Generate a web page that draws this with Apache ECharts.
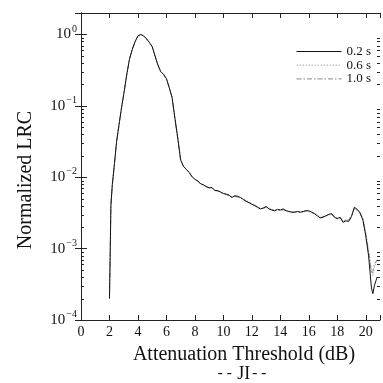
<!DOCTYPE html>
<html>
<head>
<meta charset="utf-8">
<script src="https://cdn.jsdelivr.net/npm/echarts@6/dist/echarts.min.js"></script>
<style>html,body{margin:0;padding:0;background:#fff}#c{width:383px;height:383px}</style>
</head>
<body>
<div id="c"></div>
<script>
const seriesNames = ['0.2 s', '0.6 s', '1.0 s'];
const xs = [2.0, 2.05, 2.1, 2.2, 2.35, 2.5, 2.7, 2.85,
  3.0, 3.2, 3.4, 3.6, 3.8, 4.0, 4.2, 4.4, 4.6, 4.8, 5.0, 5.2, 5.4, 5.6, 5.8, 6.0, 6.2, 6.4, 6.6, 6.8,
  7.0, 7.2, 7.4, 7.6, 7.8, 8.0, 8.2, 8.4, 8.6, 8.8, 9.0, 9.2, 9.4, 9.6, 9.8, 10.0, 10.2, 10.4, 10.6, 10.8,
  11.0, 11.2, 11.4, 11.6, 11.8, 12.0, 12.2, 12.4, 12.6, 12.8, 13.0, 13.2, 13.4, 13.6, 13.8, 14.0, 14.2, 14.4, 14.6, 14.8,
  15.0, 15.2, 15.4, 15.6, 15.8, 16.0, 16.2, 16.4, 16.6, 16.8, 17.0, 17.2, 17.4, 17.6, 17.8, 18.0, 18.2, 18.4, 18.6, 18.8,
  19.0, 19.2, 19.4, 19.6, 19.8, 20.0, 20.2, 20.4, 20.5, 20.6, 20.8];
const lrc02 = [0.0002, 0.00085, 0.004, 0.0079, 0.0155, 0.0316, 0.060, 0.095,
  0.145, 0.263, 0.447, 0.617, 0.794, 0.955, 1.0, 0.955, 0.871, 0.776, 0.676, 0.501, 0.372, 0.302, 0.275, 0.240, 0.18, 0.13, 0.066, 0.035,
  0.0174, 0.0141, 0.0129, 0.0117, 0.0102, 0.0093, 0.0089, 0.0081, 0.0078, 0.0074,
  0.0071, 0.0072, 0.0065, 0.0065, 0.0062, 0.0059, 0.0058, 0.0056, 0.0052, 0.0055,
  0.0054, 0.0052, 0.0049, 0.0046, 0.0044, 0.0042, 0.0040, 0.0038, 0.0036, 0.0037,
  0.0039, 0.0036, 0.00347, 0.00339, 0.00355, 0.00347, 0.0036, 0.00339, 0.00331, 0.00324,
  0.00324, 0.00331, 0.00324, 0.00331, 0.00339, 0.00339, 0.00324, 0.00309, 0.00288, 0.00269,
  0.00275, 0.00288, 0.00302, 0.00309, 0.00275, 0.00263, 0.00275, 0.00234, 0.00245, 0.0024,
  0.00282, 0.0038, 0.00355, 0.00316, 0.00251, 0.00151, 0.00079, 0.00028,
  0.000234, 0.0003, 0.0004];
const lrc06 = [0.0002, 0.00087, 0.0041, 0.008, 0.0157, 0.0318, 0.061, 0.096,
  0.146, 0.265, 0.445, 0.62, 0.79, 0.95, 1.0, 0.95, 0.875, 0.78, 0.67, 0.505, 0.37, 0.305, 0.272, 0.238, 0.182, 0.128, 0.067, 0.036,
  0.0176, 0.0143, 0.0127, 0.0115, 0.0104, 0.0095, 0.0087, 0.0083, 0.0077, 0.0075,
  0.0070, 0.0071, 0.0066, 0.0064, 0.0063, 0.0060, 0.0057, 0.0055, 0.0053, 0.0054,
  0.0055, 0.0051, 0.0050, 0.0047, 0.0045, 0.0041, 0.0041, 0.0037, 0.0037, 0.0036,
  0.0038, 0.0037, 0.00355, 0.00345, 0.0035, 0.0035, 0.00355, 0.00345, 0.00335, 0.0033,
  0.0032, 0.00335, 0.0033, 0.00325, 0.00345, 0.00335, 0.0033, 0.00305, 0.00295, 0.00275,
  0.0028, 0.00285, 0.00295, 0.00305, 0.0028, 0.0027, 0.0027, 0.0025, 0.0025, 0.00255,
  0.0029, 0.0036, 0.0035, 0.0033, 0.0027, 0.0017, 0.00095, 0.0005,
  0.00042, 0.00055, 0.00068];
const lrc10 = [0.0002, 0.00086, 0.0040, 0.0078, 0.0154, 0.0314, 0.059, 0.094,
  0.144, 0.262, 0.448, 0.615, 0.795, 0.96, 1.0, 0.96, 0.868, 0.772, 0.68, 0.498, 0.374, 0.3, 0.277, 0.242, 0.178, 0.131, 0.065, 0.034,
  0.0172, 0.0142, 0.0130, 0.0116, 0.0101, 0.0094, 0.0088, 0.0080, 0.0079, 0.0073,
  0.0072, 0.0070, 0.0066, 0.0064, 0.0061, 0.0060, 0.0057, 0.0056, 0.0053, 0.0054,
  0.0053, 0.0052, 0.0048, 0.0046, 0.0045, 0.0042, 0.0040, 0.0039, 0.0036, 0.0037,
  0.0038, 0.0036, 0.0035, 0.0034, 0.0035, 0.0034, 0.0035, 0.0034, 0.0033, 0.0032,
  0.00325, 0.0033, 0.0032, 0.0033, 0.0034, 0.0033, 0.0032, 0.0031, 0.0029, 0.0027,
  0.0028, 0.0029, 0.0030, 0.0030, 0.0028, 0.0026, 0.0027, 0.0024, 0.0025, 0.0025,
  0.0029, 0.0037, 0.0034, 0.0031, 0.0026, 0.0016, 0.0009, 0.00045,
  0.00048, 0.0006, 0.0007];
const minorTicks = [2e-4,3e-4,4e-4,5e-4,6e-4,7e-4,8e-4,9e-4,
  2e-3,3e-3,4e-3,5e-3,6e-3,7e-3,8e-3,9e-3,
  2e-2,3e-2,4e-2,5e-2,6e-2,7e-2,8e-2,9e-2,
  0.2,0.3,0.4,0.5,0.6,0.7,0.8,0.9];
const xTitle = 'Attenuation Threshold (dB)';
const yTitle = 'Normalized LRC';
const subDash = '--';
const subText = 'JI';

const FONT = 'Liberation Serif';
const AX = '#222';
const chart = echarts.init(document.getElementById('c'), null, {renderer: 'canvas'});

function pair(v) { return xs.map((x, i) => [x, v[i]]); }

function yLabel(v) {
  const l = Math.log10(v);
  const e = Math.round(l);
  if (Math.abs(l - e) > 0.01) return '';
  return '{b|10}{s|' + (e < 0 ? '\u2212' + (-e) : e) + '}';
}

const baseX = {
  type: 'value', min: 0, max: 21, interval: 2,
  axisLine: {show: true, lineStyle: {color: AX, width: 1}},
  axisTick: {show: true, inside: true, length: 5, lineStyle: {color: AX}},
  splitLine: {show: false}
};
const baseY = {
  type: 'log', logBase: 10, min: 1e-4, max: 2,
  axisLine: {show: true, lineStyle: {color: AX, width: 1}},
  axisTick: {show: true, inside: true, length: 6, lineStyle: {color: AX}},
  splitLine: {show: false}
};

chart.setOption({
  animation: false,
  grid: {left: 81, right: -2, top: 13, bottom: 63, containLabel: false},
  xAxis: [
    Object.assign({}, baseX, {position: 'bottom',
      axisLabel: {show: true, fontFamily: FONT, fontSize: 14, color: '#111', margin: 5,
        formatter: v => (v > 20.5 ? '' : String(v))}}),
    Object.assign({}, baseX, {position: 'top', axisLabel: {show: false}})
  ],
  yAxis: [
    Object.assign({}, baseY, {position: 'left',
      axisLabel: {show: true, margin: 4, formatter: yLabel, color: '#111',
        rich: {b: {fontFamily: FONT, fontSize: 15, color: '#111'},
               s: {fontFamily: FONT, fontSize: 10, color: '#111', padding: [0, 0, 11, 1]}}}}),
    Object.assign({}, baseY, {position: 'right', axisLabel: {show: false}})
  ],
  legend: {
    data: seriesNames, orient: 'vertical', left: 296, top: 45, padding: 0,
    itemWidth: 45, itemHeight: 10, itemGap: 0.7,
    itemStyle: {opacity: 0},
    lineStyle: {width: 1},
    textStyle: {fontFamily: FONT, fontSize: 13, color: '#111', lineHeight: 10}
  },
  series: [
    {name: seriesNames[0], type: 'line', data: pair(lrc02), symbol: 'none', z: 5,
      lineStyle: {color: '#111', width: 1}, itemStyle: {color: '#111'}},
    {name: seriesNames[1], type: 'line', data: pair(lrc06), symbol: 'none', z: 3,
      lineStyle: {color: '#aaa', width: 1, type: [1.5, 1.5]}, itemStyle: {color: '#aaa'}},
    {name: seriesNames[2], type: 'line', data: pair(lrc10), symbol: 'none', z: 4,
      lineStyle: {color: '#888', width: 1, type: [5, 2, 1.5, 2]}, itemStyle: {color: '#888'}},
    {type: 'custom', silent: true, z: 6, clip: false,
      data: minorTicks.map(v => [0, v]),
      renderItem: function (params, api) {
        const cs = params.coordSys;
        const p = api.coord([0, api.value(1)]);
        const y = Math.round(p[1]) + 0.5;
        return {type: 'group', children: [
          {type: 'line', shape: {x1: cs.x, y1: y, x2: cs.x + 3, y2: y}, style: {stroke: AX, lineWidth: 1}},
          {type: 'line', shape: {x1: cs.x + cs.width - 3, y1: y, x2: cs.x + cs.width, y2: y}, style: {stroke: AX, lineWidth: 1}}
        ]};
      }}
  ],
  graphic: [
    {type: 'text', x: 244, y: 355, style: {text: xTitle, font: '20px "Liberation Serif"', fill: '#111', textAlign: 'center', textVerticalAlign: 'middle'}},
    {type: 'text', x: 242, y: 374, style: {
      text: '{m|' + subDash + '} {s|' + subText + '}{m|' + subDash + '}',
      textAlign: 'center', textVerticalAlign: 'middle', fill: '#111',
      rich: {m: {fontFamily: 'Liberation Mono', fontSize: 15, fill: '#111'},
             s: {fontFamily: FONT, fontSize: 18, fill: '#111'}}}},
    {type: 'text', x: 26, y: 180, rotation: Math.PI / 2, style: {text: yTitle, font: '20px "Liberation Serif"', fill: '#111', textAlign: 'center', textVerticalAlign: 'middle'}}
  ]
});
</script>
</body>
</html>
